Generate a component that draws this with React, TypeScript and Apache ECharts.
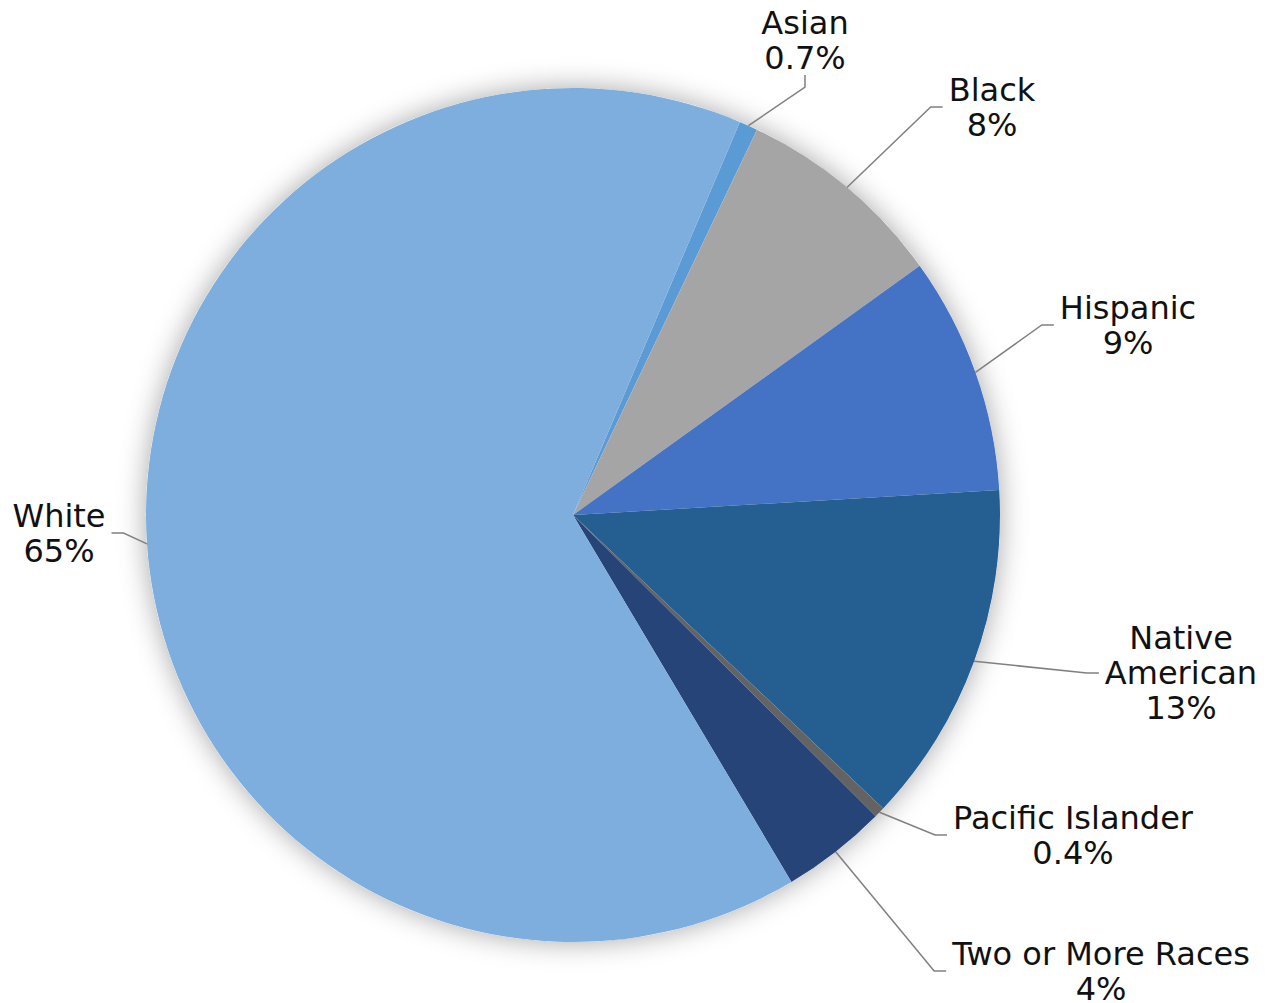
import React, { useEffect, useRef } from 'react';
import * as echarts from 'echarts';

// ---- data ----
const categories = ['Asian', 'Black', 'Hispanic', 'Native American', 'Pacific Islander', 'Two or More Races', 'White'];
const shares = [0.7, 8, 9, 13, 0.4, 4, 65];
const labelNames = ['Asian', 'Black', 'Hispanic', 'Native\nAmerican', 'Pacific Islander', 'Two or More Races', 'White'];

// ---- styling ----
const sliceColors = ['#5B9BD5', '#A5A5A5', '#4472C4', '#255E91', '#636363', '#264478', '#7DAEDD'];
const labelCenters: [number, number][] = [
  [805, 40],
  [992, 107],
  [1128, 325],
  [1181, 673],
  [1073, 835],
  [1101, 971],
  [59, 533],
];

const FONT = '"DejaVu Sans", sans-serif';

export default function App() {
  const ref = useRef<HTMLDivElement>(null);

  useEffect(() => {
    if (!ref.current) return;
    const chart = echarts.init(ref.current, undefined, { renderer: 'svg' });
    const center = [573, 515];
    const radius = 427;

    chart.setOption({
      animation: false,
      backgroundColor: '#ffffff',
      series: [
        {
          type: 'pie',
          silent: true,
          z: 1,
          center,
          radius,
          label: { show: false },
          labelLine: { show: false },
          data: [
            {
              value: 1,
              itemStyle: {
                color: '#ffffff',
                shadowBlur: 28,
                shadowColor: 'rgba(0,0,0,0.35)',
              },
            },
          ],
        },
        {
          type: 'pie',
          z: 2,
          center,
          radius,
          startAngle: 67,
          clockwise: true,
          avoidLabelOverlap: false,
          itemStyle: { borderWidth: 0 },
          label: {
            show: true,
            position: 'outside',
            fontFamily: FONT,
            fontSize: 32,
            lineHeight: 35,
            color: '#111111',
            align: 'center',
            padding: [0, 6],
            formatter: (p: any) => `${labelNames[p.dataIndex]}\n${p.value}%`,
          },
          labelLine: {
            show: true,
            length: 20,
            length2: 12,
            smooth: false,
            lineStyle: { color: '#808080', width: 1.5 },
          },
          labelLayout: (p: any) => {
            const c = labelCenters[p.dataIndex];
            return { x: c[0], y: c[1], align: 'center', verticalAlign: 'middle' };
          },
          data: categories.map((name, i) => ({
            name,
            value: shares[i],
            itemStyle: { color: sliceColors[i] },
          })),
        },
      ],
    });

    return () => chart.dispose();
  }, []);

  return (
    <div
      ref={ref}
      style={{ position: 'absolute', left: 0, top: 0, width: 1279, height: 1003 }}
    />
  );
}
